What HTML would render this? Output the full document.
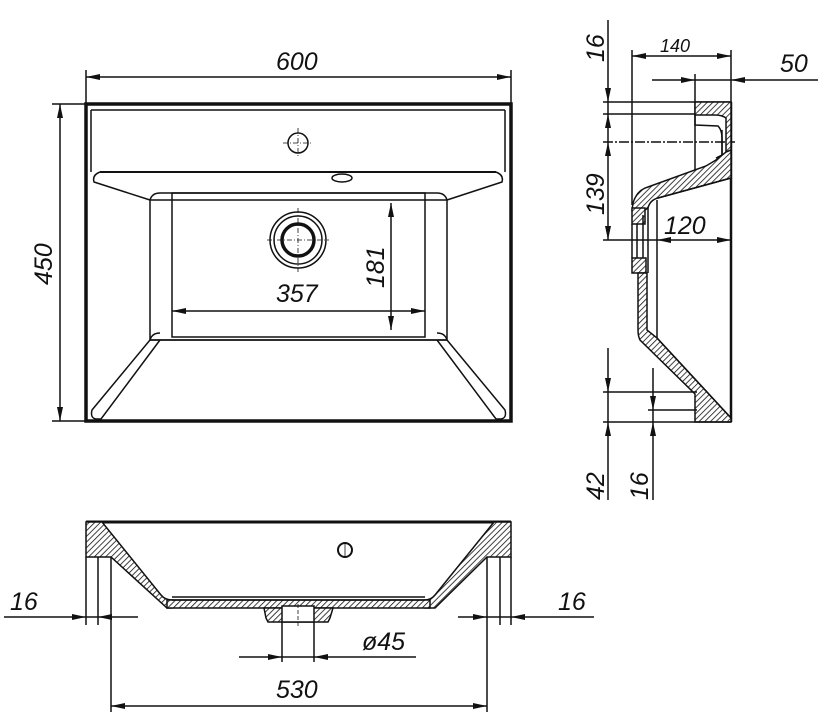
<!DOCTYPE html>
<html><head><meta charset="utf-8"><style>
html,body{margin:0;padding:0;background:#fff}
svg{display:block}
text{font-family:"Liberation Sans",sans-serif;font-style:italic;fill:#111}
</style></head><body>
<svg width="827" height="727" viewBox="0 0 827 727" xmlns="http://www.w3.org/2000/svg">
<defs>
<pattern id="h" width="4" height="4" patternUnits="userSpaceOnUse" patternTransform="rotate(45)">
<rect width="4" height="4" fill="#fff"/><line x1="0" y1="0" x2="0" y2="4" stroke="#111" stroke-width="1.6"/>
</pattern>
</defs>
<g stroke="#111" fill="none" stroke-width="1.5">
<!-- ===== TOP VIEW ===== -->
<rect x="86" y="104" width="425" height="317" stroke-width="3.5"/>
<polyline points="91,110 505,110"/>
<line x1="91" y1="110" x2="91" y2="172"/><line x1="505" y1="110" x2="505" y2="172"/>
<line x1="100" y1="172" x2="496" y2="172" stroke-width="2"/>
<path d="M100,172 Q92,175 94,182 L150,200 M496,172 Q504,175 502,182 L447,200"/>
<path d="M150,200 Q152,193 160,193 L437,193 Q445,193 447,200"/>
<rect x="150" y="200" width="297" height="140"/>
<rect x="172" y="193" width="253" height="144"/>
<path d="M150,340 Q152,333 160,333 M447,340 Q445,333 437,333"/>
<line x1="150" y1="340" x2="447" y2="340"/>
<path d="M150,340 L92,410 Q90,418 96,419 L101,419 L160,340"/>
<path d="M447,340 L505,410 Q507,418 501,419 L496,419 L437,340"/>
<circle cx="298" cy="143" r="10"/>
<line x1="283" y1="143" x2="313" y2="143" stroke-dasharray="5,2,1,2" stroke-width="0.8"/>
<line x1="298" y1="128" x2="298" y2="158" stroke-dasharray="5,2,1,2" stroke-width="0.8"/>
<ellipse cx="342" cy="178" rx="10" ry="4"/>
<circle cx="298" cy="240" r="28"/>
<circle cx="298" cy="240" r="24"/>
<circle cx="298" cy="240" r="16" stroke-width="3.5"/>
<line x1="267" y1="240" x2="329" y2="240" stroke-dasharray="5,2,1,2" stroke-width="0.8"/>
<line x1="298" y1="208" x2="298" y2="272" stroke-dasharray="5,2,1,2" stroke-width="0.8"/>
<line x1="86" y1="70" x2="86" y2="104"/><line x1="511" y1="70" x2="511" y2="104"/>
<line x1="86" y1="77" x2="511" y2="77"/>
<line x1="52" y1="104" x2="86" y2="104"/><line x1="52" y1="421" x2="86" y2="421"/>
<line x1="60" y1="104" x2="60" y2="421"/>
<line x1="172" y1="311" x2="425" y2="311"/>
<line x1="391" y1="203" x2="391" y2="330"/>
<!-- ===== SIDE VIEW ===== -->
<line x1="731" y1="102" x2="731" y2="422" stroke-width="2.5"/>
<line x1="608" y1="20" x2="608" y2="240"/>
<line x1="603" y1="102" x2="731" y2="102"/>
<line x1="603" y1="114" x2="700" y2="114"/>
<line x1="603" y1="142" x2="735" y2="142" stroke-dasharray="10,2,2,2"/>
<line x1="603" y1="240" x2="731" y2="240"/>
<line x1="632" y1="50" x2="632" y2="205"/>
<line x1="731" y1="50" x2="731" y2="102"/>
<line x1="632" y1="56" x2="731" y2="56"/>
<line x1="695" y1="74" x2="695" y2="170"/>
<line x1="652" y1="80" x2="818" y2="80"/>
<path d="M695,102 L731,102 L731,175 L726,178 L726,118 Q722,115 715,115 L695,115 Z" fill="url(#h)"/>
<path d="M695,115 L695,125 L718,126 Q722,130 722,138 L722,155 L716,158" />
<line x1="722" y1="130" x2="722" y2="155"/>
<path d="M726,152 L731,150 L731,178 L658,198 Q650,200 648,208 L645,210 L632,210 L633,203 Q637,190 648,187 L706,166 L716,160 Z" fill="url(#h)"/>
<line x1="658" y1="198" x2="731" y2="178"/>
<rect x="632" y="208" width="13" height="16" fill="url(#h)"/>
<line x1="632" y1="224" x2="632" y2="258"/>
<line x1="637" y1="224" x2="637" y2="258"/>
<line x1="643" y1="215" x2="643" y2="262"/>
<rect x="632" y="258" width="14" height="15" fill="url(#h)"/>
<path d="M638,273 L647,273 L647,330 L657,338 L731,418 L731,422 L695,422 L695,394 L640,340 Q638,336 638,330 Z" fill="url(#h)"/>
<line x1="657" y1="200" x2="657" y2="338"/>
<line x1="657" y1="338" x2="731" y2="418"/>
<line x1="648" y1="208" x2="648" y2="273"/>
<line x1="608" y1="348" x2="608" y2="500"/>
<line x1="603" y1="392" x2="697" y2="392"/>
<line x1="603" y1="422" x2="731" y2="422"/>
<line x1="653" y1="368" x2="653" y2="500"/>
<line x1="648" y1="410" x2="697" y2="410"/>
<!-- ===== FRONT SECTION ===== -->
<line x1="86" y1="522" x2="511" y2="522" stroke-width="3"/>
<path d="M86,522 L102,522 L161,595 Q165,600 172,600 L172,608 L167,608 L111,557 L86,557 Z" fill="url(#h)"/>
<path d="M511,522 L494,522 L435,595 Q431,600 425,600 L425,608 L435,608 L487,557 L511,557 Z" fill="url(#h)"/>
<rect x="167" y="600" width="263" height="8" fill="url(#h)"/>
<line x1="172" y1="597" x2="425" y2="597"/>
<line x1="172" y1="600" x2="425" y2="600"/>
<path d="M264,608 L333,608 L330,618 L328,622 L268,622 L266,618 Z" fill="url(#h)"/>
<rect x="282" y="606" width="32" height="16" fill="#fff"/>
<line x1="298" y1="604" x2="298" y2="626" stroke-width="0.8" stroke-dasharray="4,2"/>
<circle cx="345" cy="550" r="7" stroke-width="2"/>
<line x1="345" y1="543" x2="345" y2="557" stroke-width="0.8"/>
<line x1="86" y1="557" x2="86" y2="625"/><line x1="98" y1="557" x2="98" y2="625"/>
<line x1="111" y1="557" x2="111" y2="712"/>
<line x1="487" y1="557" x2="487" y2="712"/>
<line x1="500" y1="557" x2="500" y2="625"/><line x1="511" y1="557" x2="511" y2="625"/>
<line x1="4" y1="617" x2="138" y2="617"/>
<line x1="458" y1="617" x2="594" y2="617"/>
<line x1="282" y1="622" x2="282" y2="662"/><line x1="314" y1="622" x2="314" y2="662"/>
<line x1="239" y1="657" x2="416" y2="657"/>
<line x1="111" y1="706" x2="487" y2="706"/>
</g>
<g fill="#111">
<polygon points="86,77 100,74 100,80"/><polygon points="511,77 497,74 497,80"/>
<polygon points="60,104 57,118 63,118"/><polygon points="60,421 57,407 63,407"/>
<polygon points="172,311 186,308 186,314"/><polygon points="425,311 411,308 411,314"/>
<polygon points="391,203 388,217 394,217"/><polygon points="391,330 388,316 394,316"/>
<polygon points="608,102 605,88 611,88"/><polygon points="608,114 605,128 611,128"/>
<polygon points="608,142 605,156 611,156"/><polygon points="608,240 605,226 611,226"/>
<polygon points="632,56 646,53 646,59"/><polygon points="731,56 717,53 717,59"/>
<polygon points="695,80 681,77 681,83"/><polygon points="731,80 745,77 745,83"/>
<polygon points="657,240 671,237 671,243"/><polygon points="731,240 717,237 717,243"/>
<polygon points="608,392 605,378 611,378"/><polygon points="608,422 605,436 611,436"/>
<polygon points="653,410 650,396 656,396"/><polygon points="653,422 650,436 656,436"/>
<polygon points="86,617 72,614 72,620"/><polygon points="98,617 112,614 112,620"/>
<polygon points="487,617 473,614 473,620"/><polygon points="511,617 525,614 525,620"/>
<polygon points="282,657 268,654 268,660"/><polygon points="314,657 328,654 328,660"/>
<polygon points="111,706 125,703 125,709"/><polygon points="487,706 473,703 473,709"/>
</g>
<g font-size="25">
<text x="276" y="70">600</text>
<text x="0" y="0" transform="translate(52,285) rotate(-90)">450</text>
<text x="276" y="302">357</text>
<text x="0" y="0" transform="translate(384,288) rotate(-90)">181</text>
<text x="0" y="0" transform="translate(604,62) rotate(-90)">16</text>
<text x="0" y="0" transform="translate(604,215) rotate(-90)">139</text>
<text x="780" y="72">50</text>
<text x="664" y="234">120</text>
<text x="0" y="0" transform="translate(604,500) rotate(-90)">42</text>
<text x="0" y="0" transform="translate(648,500) rotate(-90)">16</text>
<text x="10" y="610">16</text>
<text x="558" y="610">16</text>
<text x="362" y="650">ø45</text>
<text x="276" y="698">530</text>
</g>
<text x="660" y="52" font-size="18">140</text>
</svg>
</body></html>
